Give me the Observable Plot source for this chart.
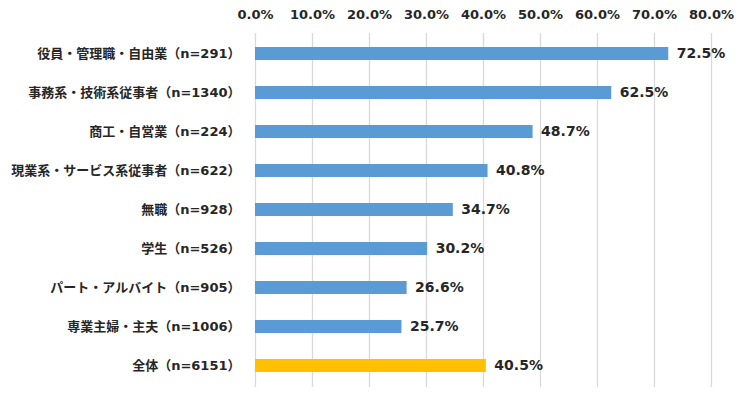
<!DOCTYPE html>
<html><head><meta charset="utf-8">
<script src="https://cdn.jsdelivr.net/npm/d3@7"></script>
<script src="https://cdn.jsdelivr.net/npm/@observablehq/plot@0.6"></script>
<style>
body{margin:0;background:#fff;}
</style></head><body>
<div id="chart"></div>
<script>
const categories = [
  "役員・管理職・自由業（n=291）",
  "事務系・技術系従事者（n=1340）",
  "商工・自営業（n=224）",
  "現業系・サービス系従事者（n=622）",
  "無職（n=928）",
  "学生（n=526）",
  "パート・アルバイト（n=905）",
  "専業主婦・主夫（n=1006）",
  "全体（n=6151）"
];
const values = [72.5, 62.5, 48.7, 40.8, 34.7, 30.2, 26.6, 25.7, 40.5];
const groups = ["属性","属性","属性","属性","属性","属性","属性","属性","全体"];
const xTicks = [0,10,20,30,40,50,60,70,80];

const data = categories.map((c,i)=>({cat:c, value:values[i], group:groups[i]}));
const font = '"DejaVu Sans", "Noto Sans CJK JP", sans-serif';

const chart = Plot.plot({
  width: 748, height: 399,
  marginLeft: 255, marginRight: 37, marginTop: 33, marginBottom: 12,
  style: {fontFamily: font, fontWeight: "bold", color: "#262626", background: "#fff"},
  x: {domain: [0, 80]},
  y: {domain: categories, paddingInner: 0.66, paddingOuter: 0.33},
  color: {domain: ["属性","全体"], range: ["#5B9BD5", "#FFC000"]},
  marks: [
    Plot.gridX(xTicks, {stroke: "#d9d9d9", strokeOpacity: 1, strokeWidth: 1.3}),
    Plot.axisX({anchor: "top", ticks: xTicks, tickSize: 0, tickPadding: 15, label: null,
      tickFormat: d => d.toFixed(1) + "%", fontSize: 13, fill: "#262626"}),
    Plot.axisY({tickSize: 0, tickPadding: 15, label: null, fontSize: 13, fill: "#262626"}),
    Plot.barX(data, {x: "value", y: "cat", fill: "group"}),
    Plot.text(data, {x: "value", y: "cat", text: d => d.value.toFixed(1) + "%",
      textAnchor: "start", dx: 8, fontSize: 14, fontWeight: "bold", fill: "#262626"})
  ]
});
document.getElementById("chart").append(chart);
</script>
</body></html>
